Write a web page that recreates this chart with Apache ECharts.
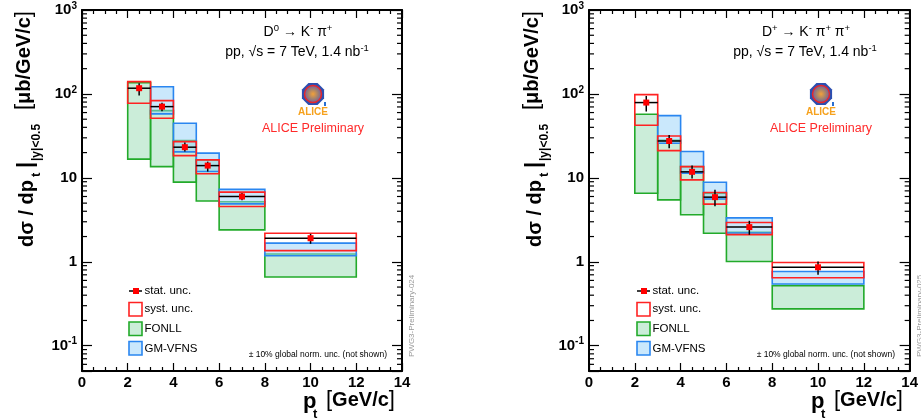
<!DOCTYPE html>
<html><head><meta charset="utf-8">
<script src="https://cdn.jsdelivr.net/npm/echarts@6/dist/echarts.min.js"></script>
<style>html,body{margin:0;padding:0;background:#fff}#c{width:921px;height:419px}</style>
</head><body><div id="c"></div>
<script>
// ---- data ----
const binLo = [2, 3, 4, 5, 6, 8];
const binHi = [3, 4, 5, 6, 8, 12];
const yMinorTicks = [0.06,0.07,0.08,0.09, 0.2,0.3,0.4,0.5,0.6,0.7,0.8,0.9, 2,3,4,5,6,7,8,9, 20,30,40,50,60,70,80,90, 200,300,400,500,600,700,800,900];

// D0 -> K- pi+
const d0Value     = [117, 70.6, 23.2, 14.0, 6.0, 1.91];
const d0StatLow   = [95.5, 62.2, 20.6, 11.9, 5.4, 1.64];
const d0StatHigh  = [134, 78.7, 26.3, 15.6, 6.6, 2.15];
const d0SystLow   = [77.4, 51.4, 18.4, 11.2, 4.55, 1.36];
const d0SystHigh  = [140, 83.2, 27.0, 16.4, 6.76, 2.19];
const d0FonllLow  = [16.7, 13.6, 8.9, 5.3, 2.4, 0.66];
const d0FonllHigh = [136, 63.2, 27.8, 16.4, 5.2, 1.24];
const d0GmLow     = [null, 57.8, 20.4, 11.9, 4.9, 1.18];
const d0GmHigh    = [null, 122, 44.8, 19.7, 7.3, 1.67];

// D+ -> K- pi+ pi+
const dpValue     = [78.9, 27.5, 11.8, 5.89, 2.59, 0.86];
const dpStatLow   = [61.7, 22.5, 9.8, 4.6, 2.10, 0.70];
const dpStatHigh  = [94.6, 32.5, 14.0, 7.2, 3.08, 1.01];
const dpSystLow   = [42.4, 21.1, 9.46, 4.86, 2.11, 0.645];
const dpSystHigh  = [98, 31.6, 13.6, 6.68, 2.94, 0.98];
const dpFonllLow  = [6.56, 5.47, 3.63, 2.19, 1.01, 0.275];
const dpFonllHigh = [57.3, 28.0, 13.6, 6.58, 2.25, 0.52];
const dpGmLow     = [null, 25.9, 11.4, 5.6, 2.2, 0.543];
const dpGmHigh    = [null, 55.2, 20.6, 8.87, 3.34, 0.767];

const legendLabels = ['stat. unc.', 'syst. unc.', 'FONLL', 'GM-VFNS'];
const decayLabels = ['D{s|0} \u2192 K{s|-} \u03c0{s|+}', 'D{s|+} \u2192 K{s|-} \u03c0{s|+} \u03c0{s|+}'];
const pwgLabels = ['PWG3-Preliminary-024', 'PWG3-Preliminary-025'];

// ---- chart ----
const FONT = '"Liberation Sans", Arial, Helvetica, sans-serif';
const panels = [
  {value:d0Value, sl:d0StatLow, sh:d0StatHigh, yl:d0SystLow, yh:d0SystHigh, fl:d0FonllLow, fh:d0FonllHigh, gl:d0GmLow, gh:d0GmHigh},
  {value:dpValue, sl:dpStatLow, sh:dpStatHigh, yl:dpSystLow, yh:dpSystHigh, fl:dpFonllLow, fh:dpFonllHigh, gl:dpGmLow, gh:dpGmHigh}
];
const GREEN_FILL = 'rgba(140,215,170,0.45)', GREEN = '#22aa2a';
const BLUE_FILL = 'rgba(150,210,250,0.5)', BLUE = '#2a86f0';
const RED = '#ff2222';

function xAx(gi, pos) {
  return {type:'value', gridIndex:gi, position:pos, min:0, max:14, interval:2,
    axisLine:{show:true, onZero:false, lineStyle:{color:'#000', width:2}},
    axisTick:{show:true, inside:true, length:8, lineStyle:{color:'#000', width:1.2}},
    minorTick:{show:true, splitNumber:4, length:4, lineStyle:{color:'#000', width:1.2}},
    splitLine:{show:false}, minorSplitLine:{show:false},
    axisLabel:{show: pos === 'bottom', margin:4, color:'#000', fontFamily:FONT, fontWeight:'bold', fontSize:15}};
}
function yAx(gi, pos) {
  return {type:'log', logBase:10, gridIndex:gi, position:pos, min:0.05, max:1000,
    axisLine:{show:true, onZero:false, lineStyle:{color:'#000', width:2}},
    axisTick:{show:true, inside:true, length:10, lineStyle:{color:'#000', width:1.2}},
    splitLine:{show:false},
    axisLabel:{show: pos === 'left', margin:5, color:'#000',
      formatter: function (v) {
        const l = Math.log10(v), r = Math.round(l);
        if (Math.abs(l - r) > 1e-6) return '';
        if (r === 0) return '{b|1}';
        if (r === 1) return '{b|10}';
        return '{b|10}{s|' + r + '}';
      },
      rich:{b:{fontFamily:FONT, fontWeight:'bold', fontSize:15, lineHeight:18, color:'#000'},
            s:{fontFamily:FONT, fontWeight:'bold', fontSize:10, lineHeight:10, verticalAlign:'top', color:'#000'}}}};
}

function boxSeries(gi, lo, hi, fill, stroke, z) {
  const data = [];
  for (let i = 0; i < binLo.length; i++) if (lo[i] != null) data.push([binLo[i], binHi[i], lo[i], hi[i]]);
  return {type:'custom', xAxisIndex:gi*2, yAxisIndex:gi*2, z:z, silent:true,
    encode:{x:[0,1], y:[2,3]}, data:data,
    renderItem: function (params, api) {
      const a = api.coord([api.value(0), api.value(3)]);
      const b = api.coord([api.value(1), api.value(2)]);
      return {type:'rect', shape:{x:a[0], y:a[1], width:b[0]-a[0], height:b[1]-a[1]},
        style:{fill:fill, stroke:stroke, lineWidth:1.6}};
    }};
}
function dataSeries(gi, p) {
  const data = binLo.map((x, i) => [x, binHi[i], p.value[i], p.sl[i], p.sh[i]]);
  return {type:'custom', xAxisIndex:gi*2, yAxisIndex:gi*2, z:6, silent:true,
    encode:{x:[0,1], y:[2,3,4]}, data:data,
    renderItem: function (params, api) {
      const l = api.coord([api.value(0), api.value(2)]);
      const r = api.coord([api.value(1), api.value(2)]);
      const xc = api.coord([(api.value(0) + api.value(1)) / 2, api.value(2)]);
      const lo = api.coord([0, api.value(3)]);
      const hi = api.coord([0, api.value(4)]);
      return {type:'group', children:[
        {type:'line', shape:{x1:l[0], y1:l[1], x2:r[0], y2:r[1]}, style:{stroke:'#000', lineWidth:1.5}},
        {type:'line', shape:{x1:xc[0], y1:lo[1], x2:xc[0], y2:hi[1]}, style:{stroke:'#000', lineWidth:1.5}},
        {type:'rect', shape:{x:xc[0]-3, y:xc[1]-3, width:6, height:6}, style:{fill:'#ff0000'}}
      ]};
    }};
}
function minorSeries(gi) {
  return {type:'custom', xAxisIndex:gi*2, yAxisIndex:gi*2, z:10, silent:true,
    encode:{x:0, y:1}, data: yMinorTicks.map(v => [0, v]),
    renderItem: function (params, api) {
      const y = api.coord([0, api.value(1)])[1];
      const cs = params.coordSys;
      return {type:'group', children:[
        {type:'line', shape:{x1:cs.x, y1:y, x2:cs.x+5, y2:y}, style:{stroke:'#000', lineWidth:1.2}},
        {type:'line', shape:{x1:cs.x+cs.width-5, y1:y, x2:cs.x+cs.width, y2:y}, style:{stroke:'#000', lineWidth:1.2}}
      ]};
    }};
}

const series = [];
panels.forEach((p, gi) => {
  series.push(boxSeries(gi, p.fl, p.fh, GREEN_FILL, GREEN, 2));
  series.push(boxSeries(gi, p.gl, p.gh, BLUE_FILL, BLUE, 3));
  series.push(boxSeries(gi, p.yl, p.yh, 'rgba(0,0,0,0)', RED, 4));
  series.push(dataSeries(gi, p));
  series.push(minorSeries(gi));
});

// ---- graphic text / legend ----
function txt(x, y, text, font, fill, align, valign, extra) {
  const st = {text:text, font:font, fill:fill || '#000', align:align || 'left', verticalAlign:valign || 'middle',
              textAlign:align || 'left', textVerticalAlign:valign || 'middle'};
  if (extra) Object.assign(st, extra);
  return {type:'text', x:x, y:y, silent:true, style:st};
}
function octagon(cx, cy, r) {
  const pts = [];
  for (let k = 0; k < 8; k++) { const a = Math.PI/8 + k*Math.PI/4; pts.push([cx + r*Math.cos(a), cy + r*Math.sin(a)]); }
  return pts;
}
const graphics = [];
panels.forEach((p, gi) => {
  const dx = gi === 0 ? 0 : 508;
  const supRich = {n:{font:'14px ' + FONT, lineHeight:17, fill:'#000'},
                   s:{font:'9.5px ' + FONT, lineHeight:9, verticalAlign:'top', fill:'#000'}};
  // decay + energy text
  graphics.push(txt(298 + dx, 32, '{n|' + decayLabels[gi].replace(/\{s\|([^}]*)\}/g, '}{s|$1}{n|') + '}', '14px ' + FONT, '#000', 'center', 'middle', {rich:supRich}));
  graphics.push(txt(297 + dx, 52, '{n|pp, \u221as = 7 TeV, 1.4 nb}{s|-1}', '14px ' + FONT, '#000', 'center', 'middle', {rich:supRich}));
  // ALICE logo
  const lx = 313 + dx, ly = 94;
  graphics.push({type:'polygon', silent:true, shape:{points:octagon(lx, ly, 12)}, style:{fill:'#2c4fb0'}});
  graphics.push({type:'circle', silent:true, shape:{cx:lx, cy:ly, r:8.5}, style:{
    fill:{type:'radial', x:0.5, y:0.5, r:0.5, colorStops:[{offset:0, color:'#f2a13a'}, {offset:0.55, color:'#a08070'}, {offset:1, color:'#6a58a8'}]},
    stroke:'#e8262a', lineWidth:1.5}});
  graphics.push({type:'rect', silent:true, shape:{x:lx + 11, y:ly + 8, width:2, height:4}, style:{fill:'#2a6fd0'}});
  graphics.push(txt(lx, ly + 18, 'ALICE', 'bold 10px ' + FONT, '#f6a21e', 'center', 'middle'));
  graphics.push(txt(lx, 129, 'ALICE Preliminary', '12.5px ' + FONT, '#ff2a2a', 'center', 'middle'));
  // legend
  const gx = 129 + dx;
  graphics.push({type:'line', silent:true, shape:{x1:gx, y1:291, x2:gx + 13, y2:291}, style:{stroke:'#000', lineWidth:1.5}});
  graphics.push({type:'rect', silent:true, shape:{x:gx + 4, y:288, width:6, height:6}, style:{fill:'#ff0000'}});
  graphics.push({type:'rect', silent:true, shape:{x:gx, y:302.5, width:13, height:13.5}, style:{fill:'#fff', stroke:RED, lineWidth:1.6}});
  graphics.push({type:'rect', silent:true, shape:{x:gx, y:322, width:13, height:13.5}, style:{fill:GREEN_FILL, stroke:GREEN, lineWidth:1.6}});
  graphics.push({type:'rect', silent:true, shape:{x:gx, y:341.5, width:13, height:13.5}, style:{fill:BLUE_FILL, stroke:BLUE, lineWidth:1.6}});
  const ly2 = [291, 309, 329, 348.5];
  legendLabels.forEach((t, k) => graphics.push(txt(gx + 15.5, ly2[k], t, '11.5px ' + FONT, '#000', 'left', 'middle')));
  graphics.push(txt(387 + dx, 355, '\u00b1 10% global norm. unc. (not shown)', '8.5px ' + FONT, '#000', 'right', 'middle'));
  // PWG label
  graphics.push({type:'group', x:412 + dx, y:357, rotation:Math.PI/2, silent:true,
    children:[txt(0, 0, pwgLabels[gi], '8px ' + FONT, '#9a9a9a', 'left', 'middle')]});
  // y-axis title
  graphics.push({type:'group', x:27 + dx, y:247, rotation:Math.PI/2, silent:true, children:[
    txt(0, 0, 'd\u03c3 / dp', 'bold 20px ' + FONT, '#000', 'left', 'middle'),
    txt(70, 9, 't', 'bold 13px ' + FONT, '#000', 'left', 'middle'),
    txt(79, -1, '|', 'bold 22px ' + FONT, '#000', 'left', 'middle'),
    txt(86, 10, '|y|<0.5', 'bold 12px ' + FONT, '#000', 'left', 'middle'),
    txt(137, -3, '{br|[}{b|\u03bcb/GeV/c}{br|]}', 'bold 20px ' + FONT, '#000', 'left', 'middle',
      {rich:{b:{font:'bold 20px ' + FONT, fill:'#000'}, br:{font:'22px ' + FONT, fill:'#000'}}})
  ]});
  // x-axis title
  graphics.push(txt(303 + dx, 402, 'p', 'bold 22px ' + FONT, '#000', 'left', 'middle'));
  graphics.push(txt(313 + dx, 414, 't', 'bold 13px ' + FONT, '#000', 'left', 'middle'));
  graphics.push(txt(326 + dx, 400, '{br|[}{b|GeV/c}{br|]}', 'bold 20px ' + FONT, '#000', 'left', 'middle',
    {rich:{b:{font:'bold 20px ' + FONT, fill:'#000'}, br:{font:'22px ' + FONT, fill:'#000'}}}));
});

const chart = echarts.init(document.getElementById('c'), null, {renderer:'canvas'});
chart.setOption({
  animation:false,
  backgroundColor:'#fff',
  grid:[{left:82, top:10, width:320, height:361}, {left:589, top:10, width:322, height:361}],
  xAxis:[xAx(0,'bottom'), xAx(0,'top'), xAx(1,'bottom'), xAx(1,'top')],
  yAxis:[yAx(0,'left'), yAx(0,'right'), yAx(1,'left'), yAx(1,'right')],
  series:series,
  graphic:graphics
});
</script>
</body></html>
